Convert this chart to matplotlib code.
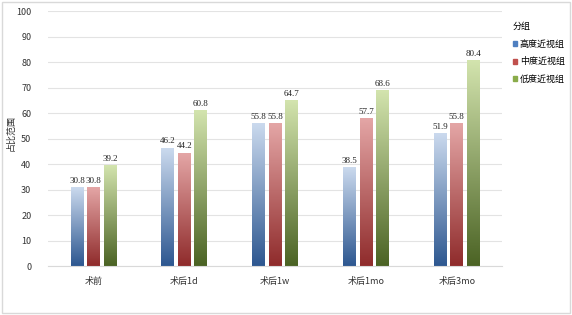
import numpy as np
import matplotlib.pyplot as plt
from matplotlib.colors import LinearSegmentedColormap
from matplotlib.patches import Rectangle

plt.rcParams['font.family'] = ['Noto Sans CJK SC', 'DejaVu Sans']

categories = ['术前', '术后1d', '术后1w', '术后1mo', '术后3mo']
series_names = ['高度近视组', '中度近视组', '低度近视组']
high = [30.8, 46.2, 55.8, 38.5, 51.9]
mid = [30.8, 44.2, 55.8, 57.7, 55.8]
low = [39.2, 60.8, 64.7, 68.6, 80.4]
values = [high, mid, low]

# (bottom colour, top colour, legend colour)
colors = [('#2d5790', '#cbdaee', '#4f7fc0'),
          ('#8f2b2b', '#e4a6a6', '#c0504d'),
          ('#4b6324', '#d3e4ae', '#8aac4a')]

fig = plt.figure(figsize=(5.72, 3.15), dpi=100)
ax = fig.add_axes([0.084, 0.155, 0.794, 0.81])

x = np.arange(len(categories))
w = 0.14
step = 0.182
grad = np.linspace(0, 1, 256).reshape(-1, 1)

for i, vals in enumerate(values):
    cmap = LinearSegmentedColormap.from_list('g%d' % i, [colors[i][0], colors[i][1]])
    for j, v in enumerate(vals):
        x0 = x[j] + (i - 1) * step - w / 2
        ax.imshow(grad, cmap=cmap, origin='lower', aspect='auto',
                  extent=[x0, x0 + w, 0, v], zorder=2)
        ax.text(x0 + w / 2, v + 1.2, '%.1f' % v, ha='center', va='bottom',
                fontsize=6.5, family='Liberation Serif', color='#222222')

ax.set_xlim(-0.5, len(categories) - 0.5)
ax.set_ylim(0, 100)
ax.set_yticks(range(0, 101, 10))
ax.set_xticks(x)
ax.set_xticklabels(categories, fontsize=6.5, color='#333333')
ax.tick_params(axis='y', labelsize=6.5, colors='#333333', length=0, pad=12)
ax.tick_params(axis='x', length=0, pad=8)
ax.yaxis.grid(True, color='#e3e3e3', lw=0.8, zorder=0)
ax.set_axisbelow(True)
for s in ['top', 'right', 'left']:
    ax.spines[s].set_visible(False)
ax.spines['bottom'].set_color('#d9d9d9')
ax.set_ylabel('占比范围', fontsize=6.5, color='#333333', rotation=90)
ax.yaxis.set_label_coords(-0.072, 0.52)

handles = [Rectangle((0, 0), 1, 1, color=c[2]) for c in colors]
leg = fig.legend(handles, series_names, title='分组', loc='upper left',
                 bbox_to_anchor=(0.882, 0.955), frameon=False, fontsize=6.5,
                 title_fontsize=6.5, handlelength=0.5, handleheight=0.5,
                 handletextpad=0.3, labelspacing=0.95, alignment='left')

fig.patches.append(Rectangle((0.003, 0.005), 0.994, 0.99, transform=fig.transFigure,
                             fill=False, ec='#d9d9d9', lw=1))

fig.savefig('out.png', dpi=100)
